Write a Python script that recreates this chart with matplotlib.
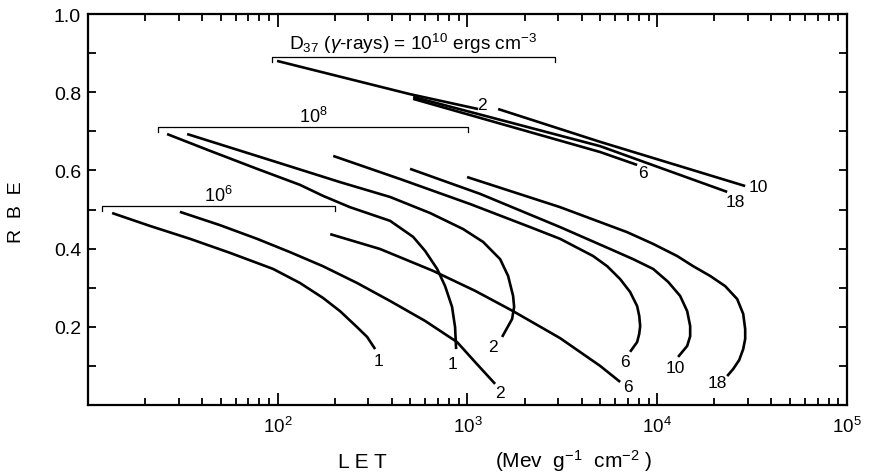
import matplotlib
matplotlib.use("Agg")
import matplotlib.pyplot as plt
from matplotlib.ticker import FixedLocator, NullFormatter

plt.rcParams['font.family'] = ['Liberation Sans', 'DejaVu Sans']
plt.rcParams['mathtext.fontset'] = 'custom'
plt.rcParams['mathtext.rm'] = 'Liberation Sans'
plt.rcParams['mathtext.it'] = 'Liberation Sans:italic'

# RBE vs LET curves, grouped by D37 of gamma rays (ergs cm^-3)

# D37 = 10^6
let_1e6_1 = [13.4, 21.2, 34.5, 56.1, 94.5, 131, 173, 213, 262, 296, 326]
rbe_1e6_1 = [0.491, 0.458, 0.425, 0.389, 0.348, 0.312, 0.274, 0.240, 0.199, 0.174, 0.143]
let_1e6_2 = [30.5, 49.6, 77.8, 116, 173, 262, 391, 598, 881, 1110, 1398]
rbe_1e6_2 = [0.494, 0.460, 0.425, 0.391, 0.355, 0.312, 0.266, 0.215, 0.161, 0.107, 0.054]
let_1e6_6 = [189, 346, 659, 1097, 1739, 3076, 5000, 6375]
rbe_1e6_6 = [0.437, 0.399, 0.343, 0.292, 0.240, 0.171, 0.100, 0.059]

# D37 = 10^8
let_1e8_1 = [26.1, 44.0, 77.8, 131, 173, 240, 391, 517, 598, 692, 762, 829, 860, 871]
rbe_1e8_1 = [0.693, 0.650, 0.604, 0.563, 0.535, 0.506, 0.471, 0.430, 0.394, 0.348,
             0.304, 0.251, 0.199, 0.143]
let_1e8_2 = [33.3, 94.5, 213, 391, 635, 948, 1209, 1486, 1637, 1739, 1761, 1718, 1522]
rbe_1e8_2 = [0.693, 0.624, 0.570, 0.532, 0.491, 0.450, 0.417, 0.373, 0.330, 0.279,
             0.251, 0.220, 0.174]
let_1e8_6 = [196, 441, 1032, 2138, 3076, 4592, 5445, 6375, 7194, 7834, 8036, 8128,
             8036, 7834, 7194]
rbe_1e8_6 = [0.637, 0.578, 0.514, 0.455, 0.425, 0.381, 0.355, 0.322, 0.289, 0.253,
             0.228, 0.202, 0.182, 0.161, 0.136]
let_1e8_10 = [498, 1165, 3076, 5646, 7464, 9515, 11410, 13200, 14380, 14910, 14910,
              14380, 12880]
rbe_1e8_10 = [0.604, 0.540, 0.455, 0.399, 0.373, 0.348, 0.315, 0.279, 0.240, 0.202,
              0.176, 0.151, 0.123]
let_1e8_18 = [995, 3076, 6940, 9515, 12730, 15470, 19010, 22800, 26380, 28380, 29070,
              29070, 28380, 27030, 25130, 23360]
rbe_1e8_18 = [0.583, 0.506, 0.442, 0.412, 0.381, 0.355, 0.330, 0.304, 0.271, 0.233,
              0.194, 0.169, 0.143, 0.115, 0.092, 0.074]

# D37 = 10^10
let_1e10_2 = [99.2, 498, 1137]
rbe_1e10_2 = [0.880, 0.795, 0.757]
let_1e10_6 = [517, 5000, 7834]
rbe_1e10_6 = [0.783, 0.647, 0.614]
let_1e10_18 = [517, 5000, 23360]
rbe_1e10_18 = [0.788, 0.662, 0.545]
let_1e10_10 = [1450, 5000, 29070]
rbe_1e10_10 = [0.757, 0.673, 0.560]

# LET range brackets of each group: (start, end, RBE level)
bracket_1e6 = (11.9, 200, 0.509)
bracket_1e8 = (23.4, 1007, 0.711)
bracket_1e10 = (93.3, 2896, 0.890)

# curve, ion label, label offset (pixels) from the curve end
curves = [
    (let_1e6_1, rbe_1e6_1, '1', (3, -11)),
    (let_1e6_2, rbe_1e6_2, '2', (5, -9)),
    (let_1e6_6, rbe_1e6_6, '6', (8, -5)),
    (let_1e8_1, rbe_1e8_1, '1', (-4, -14)),
    (let_1e8_2, rbe_1e8_2, '2', (-9, -10)),
    (let_1e8_6, rbe_1e8_6, '6', (-5, -10)),
    (let_1e8_10, rbe_1e8_10, '10', (-3, -11)),
    (let_1e8_18, rbe_1e8_18, '18', (-10, -6)),
    (let_1e10_2, rbe_1e10_2, '2', (4, 5)),
    (let_1e10_6, rbe_1e10_6, '6', (6, -8)),
    (let_1e10_18, rbe_1e10_18, '18', (8, -10)),
    (let_1e10_10, rbe_1e10_10, '10', (13, 0)),
]

fig = plt.figure(figsize=(8.7, 4.77), dpi=100)
ax = fig.add_axes([88 / 870, 1 - 406 / 477, 759 / 870, 391 / 477])

for x, y, lab, off in curves:
    ax.plot(x, y, color='black', lw=1.9, solid_capstyle='butt', solid_joinstyle='round')
    ax.annotate(lab, (x[-1], y[-1]), xytext=off, textcoords='offset pixels',
                ha='center', va='center', fontsize=12.5)

def bracket(b, text, text_y, fs=13):
    x0, x1, yb = b
    ax.plot([x0, x0, x1, x1], [yb - 0.012, yb, yb, yb - 0.012], color='black', lw=0.9)
    xm = (x0 * x1) ** 0.5
    ax.text(xm, text_y, text, ha='center', va='center', fontsize=fs)

bracket(bracket_1e6, '$10^{6}$', 0.537)
bracket(bracket_1e8, '$10^{8}$', 0.739)
bracket(bracket_1e10, 'D$_{37}$ ($\\gamma$-rays) = $10^{10}$ ergs cm$^{-3}$', 0.925, fs=13.8)

ax.set_xscale('log')
ax.set_xlim(10, 1e5)
ax.set_ylim(0, 1.0)

ax.set_xticks([1e2, 1e3, 1e4, 1e5])
ax.set_xticklabels(['$10^{2}$', '$10^{3}$', '$10^{4}$', '$10^{5}$'], fontsize=13.5)
ax.xaxis.set_minor_locator(FixedLocator([m * 10 ** e for e in range(1, 5) for m in range(2, 10)]))
ax.xaxis.set_minor_formatter(NullFormatter())
ax.set_yticks([0.2, 0.4, 0.6, 0.8, 1.0])
ax.set_yticklabels(['0.2', '0.4', '0.6', '0.8', '1.0'], fontsize=14)
ax.yaxis.set_minor_locator(FixedLocator([0.1, 0.3, 0.5, 0.7, 0.9]))

ax.tick_params(which='both', direction='in', top=True, right=True, width=1.3, color='black')
ax.tick_params(axis='x', which='major', length=9, pad=8)
ax.tick_params(axis='x', which='minor', length=5)
ax.tick_params(axis='y', which='both', length=6, pad=5)
for s in ax.spines.values():
    s.set_linewidth(1.6)

fig.text(17 / 870, 1 - 212 / 477, 'R  B  E', rotation=90, ha='center', va='center', fontsize=14)
fig.text(362 / 870, 1 - 463 / 477, 'L E T', ha='center', va='center', fontsize=15)
fig.text(574 / 870, 1 - 461 / 477, '(Mev  g$^{-1}$  cm$^{-2}$ )', ha='center', va='center', fontsize=15)

fig.savefig('out.png', dpi=100)
